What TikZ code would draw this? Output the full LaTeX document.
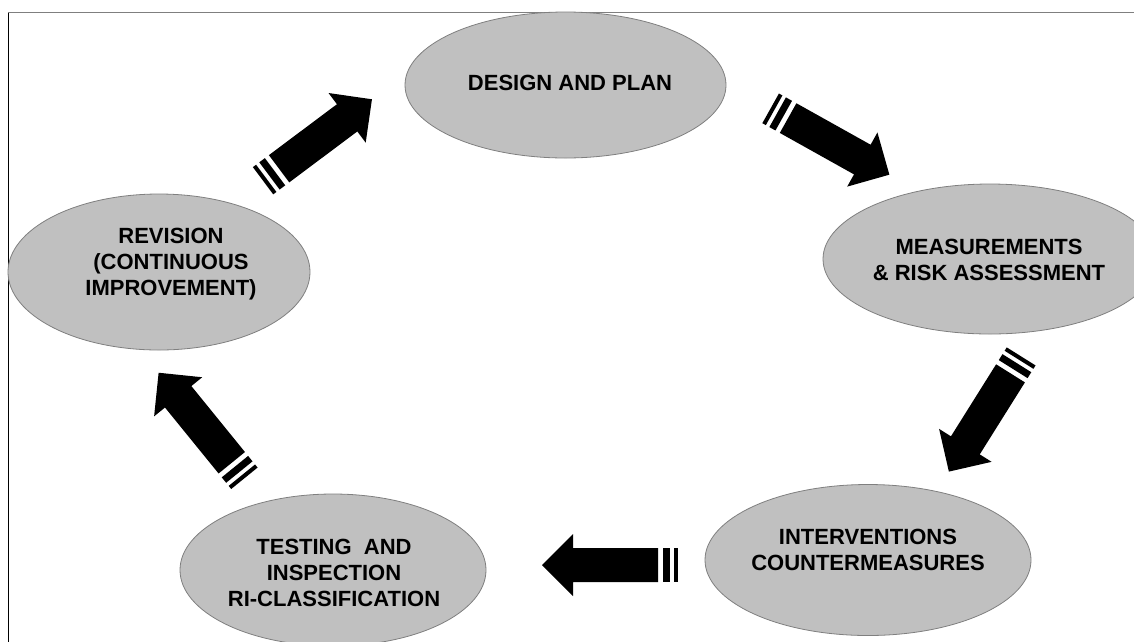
\documentclass[tikz,border=0pt]{standalone}
\usepackage{fontspec}
\setmainfont{Liberation Sans}
\usetikzlibrary{shapes.geometric}
\definecolor{ellfill}{HTML}{C0C0C0}
\definecolor{ellline}{HTML}{7F7F7F}
\tikzset{
  ell/.style={ellipse, draw=ellline, line width=0.8pt, fill=ellfill, inner sep=0pt, outer sep=0pt},
  lbl/.style={align=center, font=\bfseries\fontsize{22}{26}\selectfont, inner sep=0pt},
  blockarrow/.pic={
    \fill[black] (-48,-17) -- (37,-17) -- (37,-31) -- (68,0) -- (37,31) -- (37,17) -- (-48,17) -- cycle;
    \fill[black] (-60,-17) rectangle (-53,17);
    \fill[black] (-68,-17) rectangle (-64,17);
  }
}
\begin{document}
\begin{tikzpicture}[x=1pt,y=-1pt]
\useasboundingbox (0,0) rectangle (1134,641);
% frame
\draw[ellline, line width=1pt] (8,660) -- (8,12) -- (1150,12);
\draw[black, line width=1pt] (8,12.5) -- (8,660);
% ellipses
\node (design) [ell, minimum width=321pt, minimum height=146pt] at (565.5,85) {};
\node (meas) [ell, minimum width=334pt, minimum height=150pt] at (990,259) {};
\node (rev) [ell, minimum width=302pt, minimum height=156pt] at (159,272) {};
\node (interv) [ell, minimum width=326pt, minimum height=151pt] at (868,560) {};
\node (test) [ell, minimum width=306pt, minimum height=152pt] at (333,570) {};
% labels
\node (tdesign) [lbl] at (570,83) {DESIGN AND PLAN};
\node (tmeas) [lbl] at (989,260) {MEASUREMENTS\\\& RISK ASSESSMENT};
\node (trev) [lbl] at (171,264) {REVISION\\(CONTINUOUS\\IMPROVEMENT)};
\node (tinterv) [lbl] at (868,550) {INTERVENTIONS\\COUNTERMEASURES};
\node (ttest) [lbl] at (334,573) {TESTING\ \ AND\\INSPECTION\\RI-CLASSIFICATION};
% block arrows
\pic[rotate=36.8] at (317.5,140) {blockarrow};
\pic[rotate=-29.2] at (830,141.5) {blockarrow};
\pic[rotate=-122.1] at (985,414) {blockarrow};
\pic[rotate=180] at (610,565) {blockarrow};
\pic[rotate=129.1] at (201.5,425.5) {blockarrow};
\end{tikzpicture}
\end{document}
